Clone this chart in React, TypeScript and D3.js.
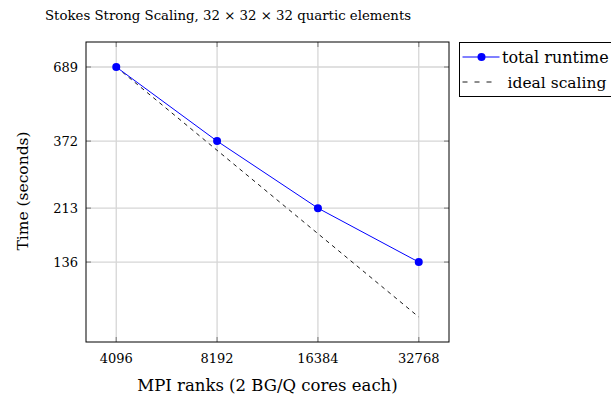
import React, { useEffect, useRef } from 'react';
import * as d3 from 'd3';

// MPI ranks and measured runtime (seconds)
const ranks = [4096, 8192, 16384, 32768];
const runtime = [689, 372, 213, 136];
// ideal strong scaling from the first point
const ideal = [689, 344.5, 172.25, 86.125];
const yTicks = [689, 372, 213, 136];

const W = 611;
const H = 401;
const margin = { top: 42, right: 162, bottom: 59, left: 86 };
const FONT = 'DejaVu Serif';

export default function App() {
  const ref = useRef<SVGSVGElement>(null);

  useEffect(() => {
    const svg = d3.select(ref.current);
    svg.selectAll('*').remove();

    const width = W - margin.left - margin.right;
    const height = H - margin.top - margin.bottom;

    // pgfplots style: enlarge limits by 10% of the log range
    const lx = [Math.log2(ranks[0]), Math.log2(ranks[ranks.length - 1])];
    const ex = (lx[1] - lx[0]) * 0.1;
    const x = d3.scaleLog().base(2)
      .domain([Math.pow(2, lx[0] - ex), Math.pow(2, lx[1] + ex)])
      .range([0, width]);

    const ly = [Math.log(d3.min(ideal) as number), Math.log(d3.max(runtime) as number)];
    const ey = (ly[1] - ly[0]) * 0.1;
    const y = d3.scaleLog()
      .domain([Math.exp(ly[0] - ey), Math.exp(ly[1] + ey)])
      .range([height, 0]);

    const g = svg.append('g')
      .attr('transform', 'translate(' + margin.left + ',' + margin.top + ')');

    // grid
    g.append('g').selectAll('line').data(ranks).join('line')
      .attr('x1', d => x(d)).attr('x2', d => x(d))
      .attr('y1', 0).attr('y2', height)
      .attr('stroke', '#d6d6d6').attr('stroke-width', 1.3);
    g.append('g').selectAll('line').data(yTicks).join('line')
      .attr('y1', d => y(d)).attr('y2', d => y(d))
      .attr('x1', 0).attr('x2', width)
      .attr('stroke', '#d6d6d6').attr('stroke-width', 1.3);

    // tick marks inside on all sides
    const tl = 5;
    const tick = g.append('g').attr('stroke', '#909090').attr('stroke-width', 1.3);
    ranks.forEach(r => {
      tick.append('line').attr('x1', x(r)).attr('x2', x(r)).attr('y1', height).attr('y2', height - tl);
      tick.append('line').attr('x1', x(r)).attr('x2', x(r)).attr('y1', 0).attr('y2', tl);
    });
    yTicks.forEach(v => {
      tick.append('line').attr('y1', y(v)).attr('y2', y(v)).attr('x1', 0).attr('x2', tl);
      tick.append('line').attr('y1', y(v)).attr('y2', y(v)).attr('x1', width).attr('x2', width - tl);
    });

    // tick labels
    g.append('g').selectAll('text').data(ranks).join('text')
      .attr('x', d => x(d)).attr('y', height + 21)
      .attr('text-anchor', 'middle')
      .attr('font-family', FONT).attr('font-size', 13)
      .attr('fill', '#000')
      .text(d => String(d));
    g.append('g').selectAll('text').data(yTicks).join('text')
      .attr('x', -8).attr('y', d => y(d)).attr('dy', '0.36em')
      .attr('text-anchor', 'end')
      .attr('font-family', FONT).attr('font-size', 13)
      .attr('fill', '#000')
      .text(d => String(d));

    // ideal line
    g.append('path')
      .datum(ideal)
      .attr('fill', 'none')
      .attr('stroke', '#000')
      .attr('stroke-width', 0.9)
      .attr('stroke-dasharray', '4,4')
      .attr('d', d3.line<number>()
        .x((d, i) => x(ranks[i]))
        .y(d => y(d)));

    // runtime line
    g.append('path')
      .datum(runtime)
      .attr('fill', 'none')
      .attr('stroke', '#0000ff')
      .attr('stroke-width', 1)
      .attr('d', d3.line<number>()
        .x((d, i) => x(ranks[i]))
        .y(d => y(d)));
    g.append('g').selectAll('circle').data(runtime).join('circle')
      .attr('cx', (d, i) => x(ranks[i]))
      .attr('cy', d => y(d))
      .attr('r', 4)
      .attr('fill', '#0000ff');

    // frame
    g.append('rect')
      .attr('width', width).attr('height', height)
      .attr('fill', 'none').attr('stroke', '#000').attr('stroke-width', 1);

    // axis labels and title
    svg.append('text')
      .attr('x', margin.left + width / 2).attr('y', 391)
      .attr('text-anchor', 'middle')
      .attr('font-family', FONT).attr('font-size', 16.5)
      .text('MPI ranks (2 BG/Q cores each)');
    svg.append('text')
      .attr('transform', 'translate(28,' + (margin.top + height / 2 - 1) + ') rotate(-90)')
      .attr('text-anchor', 'middle')
      .attr('font-family', FONT).attr('font-size', 15.5)
      .text('Time (seconds)');
    svg.append('text')
      .attr('x', 45).attr('y', 20)
      .attr('font-family', FONT).attr('font-size', 13.3)
      .text('Stokes Strong Scaling, 32 × 32 × 32 quartic elements');

    // legend
    const lg = svg.append('g').attr('transform', 'translate(459.5,42.5)');
    lg.append('rect')
      .attr('width', 160).attr('height', 54)
      .attr('fill', '#fff').attr('stroke', '#000').attr('stroke-width', 1);
    lg.append('line')
      .attr('x1', 3).attr('x2', 40).attr('y1', 14.5).attr('y2', 14.5)
      .attr('stroke', '#0000ff').attr('stroke-width', 1);
    lg.append('circle').attr('cx', 22).attr('cy', 14.5).attr('r', 4).attr('fill', '#0000ff');
    lg.append('line')
      .attr('x1', 3).attr('x2', 37).attr('y1', 39.5).attr('y2', 39.5)
      .attr('stroke', '#000').attr('stroke-width', 0.9).attr('stroke-dasharray', '5,7');
    lg.append('text').attr('x', 42.5).attr('y', 14.5).attr('dy', '0.36em')
      .attr('font-family', FONT).attr('font-size', 16).text('total runtime');
    lg.append('text').attr('x', 48).attr('y', 39.5).attr('dy', '0.36em')
      .attr('font-family', FONT).attr('font-size', 15.5).text('ideal scaling');
  }, []);

  return (
    <svg ref={ref} width={W} height={H}
      style={{ position: 'absolute', left: 0, top: 0, background: '#fff' }} />
  );
}
